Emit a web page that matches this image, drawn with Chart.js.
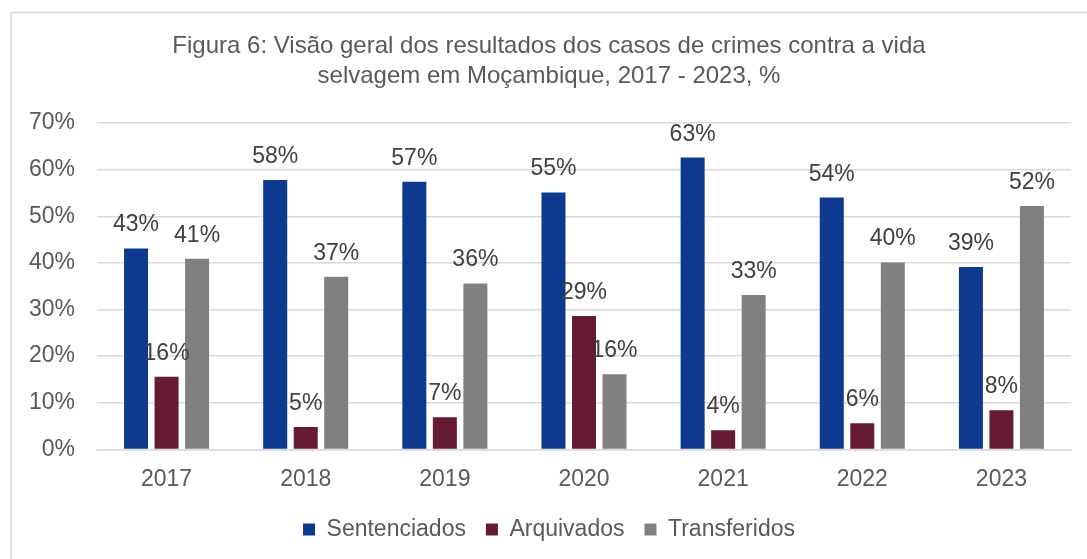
<!DOCTYPE html>
<html>
<head>
<meta charset="utf-8">
<script src="https://cdn.jsdelivr.net/npm/chart.js@4.4.1/dist/chart.umd.min.js"></script>
<style>
  html, body { margin: 0; padding: 0; background: #ffffff; }
  #wrap { position: relative; width: 1087px; height: 559px; }
</style>
</head>
<body>
<div id="wrap"><canvas id="c" width="1087" height="559"></canvas></div>
<script>
const titleLines = [
  'Figura 6: Visão geral dos resultados dos casos de crimes contra a vida',
  'selvagem em Moçambique, 2017 - 2023, %'
];
const categories = ['2017', '2018', '2019', '2020', '2021', '2022', '2023'];
const sentenciados = [43.1, 57.8, 57.4, 55.1, 62.6, 54.0, 39.1];
const arquivados   = [15.6, 4.8, 6.9, 28.6, 4.1, 5.6, 8.4];
const transferidos = [40.9, 37.0, 35.6, 16.1, 33.1, 40.1, 52.2];
const seriesNames  = ['Sentenciados', 'Arquivados', 'Transferidos'];
const seriesColors = ['#0d3a8f', '#651c32', '#808080'];
const yTicks = [0, 10, 20, 30, 40, 50, 60, 70];

const FONT = "'Liberation Sans', Arial, sans-serif";

const frame = {
  id: 'frame',
  beforeDraw(chart) {
    const ctx = chart.ctx;
    ctx.save();
    ctx.strokeStyle = '#d9d9d9';
    ctx.lineWidth = 1.5;
    ctx.beginPath();
    ctx.moveTo(11, 600);
    ctx.lineTo(11, 12.5);
    ctx.lineTo(1100, 12.5);
    ctx.stroke();
    ctx.restore();
  }
};

const dataLabels = {
  id: 'dataLabels',
  afterDatasetsDraw(chart) {
    const ctx = chart.ctx;
    ctx.save();
    ctx.font = '23px ' + FONT;
    ctx.fillStyle = '#404040';
    ctx.textAlign = 'center';
    ctx.textBaseline = 'alphabetic';
    chart.data.datasets.forEach((ds, i) => {
      const meta = chart.getDatasetMeta(i);
      meta.data.forEach((bar, j) => {
        const v = ds.data[j];
        ctx.fillText(Math.round(v) + '%', bar.x, bar.y - 17);
      });
    });
    ctx.restore();
  }
};

const datasets = [sentenciados, arquivados, transferidos].map((arr, i) => ({
  label: seriesNames[i],
  data: arr,
  backgroundColor: seriesColors[i],
  borderWidth: 0,
  categoryPercentage: 0.658,
  barPercentage: 0.787
}));

new Chart(document.getElementById('c'), {
  type: 'bar',
  data: { labels: categories, datasets },
  options: {
    responsive: false,
    animation: false,
    layout: { padding: { top: 12, left: 27, right: 16, bottom: 8 } },
    plugins: {
      title: {
        display: true,
        text: titleLines,
        color: '#595959',
        font: { family: FONT, size: 24, weight: 'normal', lineHeight: 1.25 },
        padding: { top: 19, bottom: 32 }
      },
      legend: {
        position: 'bottom',
        labels: {
          color: '#595959',
          font: { family: FONT, size: 23 },
          boxWidth: 12,
          boxHeight: 12,
          padding: 20
        }
      },
      tooltip: { enabled: false }
    },
    scales: {
      x: {
        grid: { display: false },
        border: { display: true, color: '#d9d9d9', width: 1.5 },
        ticks: { color: '#595959', font: { family: FONT, size: 23 }, padding: 8 },
        afterFit(scale) { scale.height = scale.height - 3; }
      },
      y: {
        min: 0,
        max: 70,
        afterBuildTicks(scale) { scale.ticks = yTicks.map(v => ({ value: v })); },
        afterFit(scale) { scale.width = 70; },
        grid: { color: '#d9d9d9', lineWidth: 1.5, drawTicks: false },
        border: { display: false },
        ticks: {
          color: '#595959',
          font: { family: FONT, size: 23 },
          padding: 22,
          callback: v => v + '%'
        }
      }
    }
  },
  plugins: [frame, dataLabels]
});
</script>
</body>
</html>
